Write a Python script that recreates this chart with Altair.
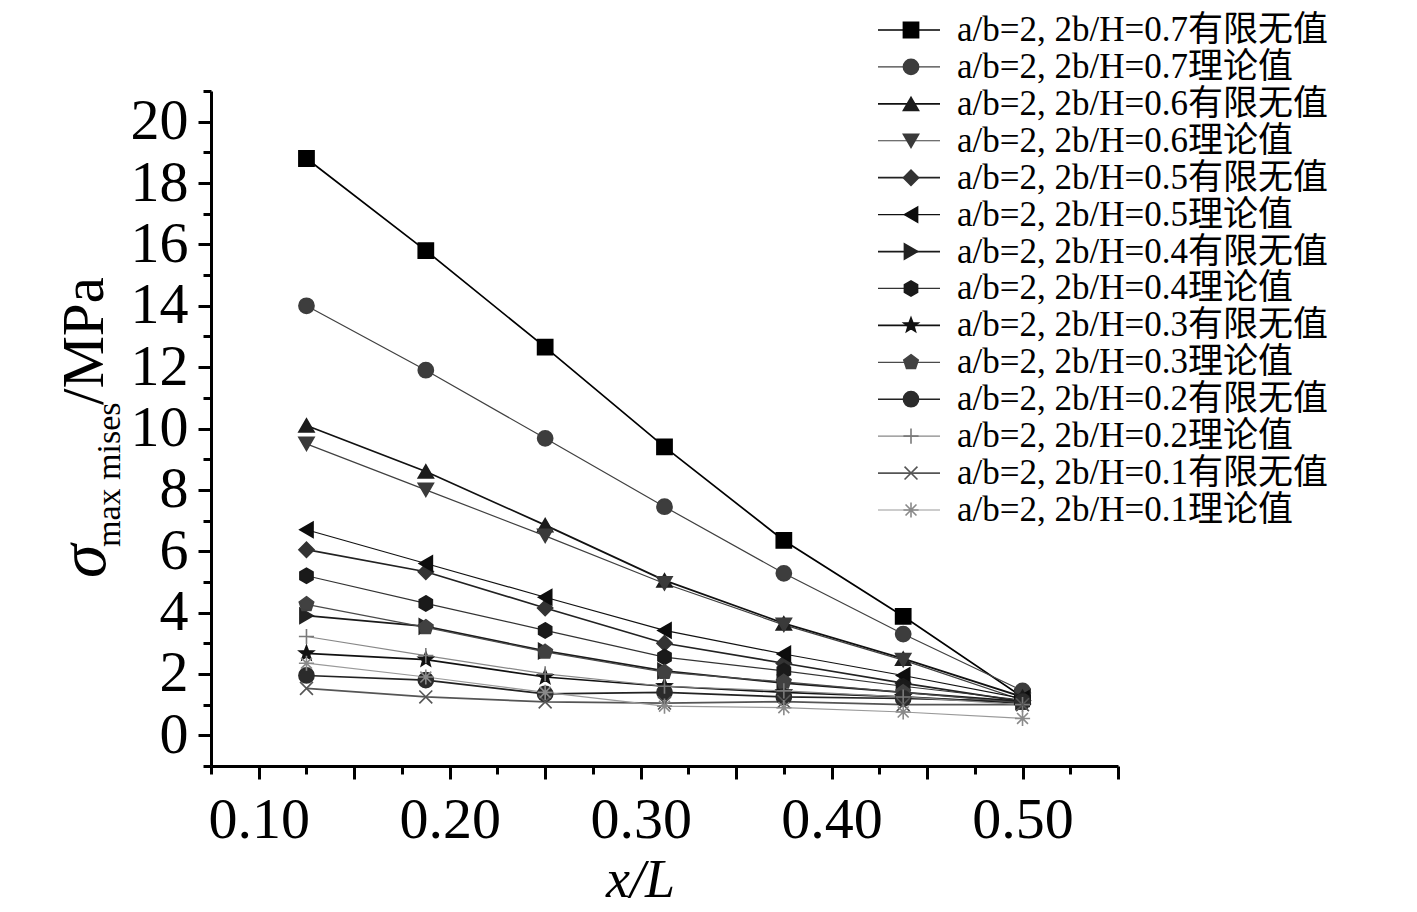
import math
import altair as alt
import pandas as pd

# ---------------- data ----------------
X_OVER_L = [0.125, 0.1875, 0.25, 0.3125, 0.375, 0.4375, 0.5]

FE_07 = [18.8, 15.8, 12.65, 9.4, 6.35, 3.88, 1.25]
TH_07 = [14.0, 11.9, 9.68, 7.45, 5.28, 3.3, 1.45]
FE_06 = [10.1, 8.6, 6.85, 5.05, 3.65, 2.5, 1.25]
TH_06 = [9.5, 8.0, 6.5, 4.95, 3.6, 2.45, 1.15]
FE_05 = [6.05, 5.33, 4.15, 3.0, 2.35, 1.7, 1.1]
TH_05 = [6.7, 5.6, 4.5, 3.42, 2.65, 1.95, 1.2]
FE_04 = [3.9, 3.55, 2.75, 2.1, 1.7, 1.4, 1.1]
TH_04 = [5.2, 4.3, 3.42, 2.55, 2.1, 1.6, 1.15]
FE_03 = [2.67, 2.47, 1.9, 1.6, 1.4, 1.25, 1.05]
TH_03 = [4.27, 3.52, 2.72, 2.06, 1.74, 1.4, 1.05]
FE_02 = [1.95, 1.8, 1.35, 1.4, 1.25, 1.2, 1.1]
TH_02 = [3.22, 2.6, 2.0, 1.6, 1.45, 1.25, 1.0]
FE_01 = [1.53, 1.25, 1.09, 1.05, 1.1, 1.0, 1.0]
TH_01 = [2.35, 1.9, 1.4, 0.95, 0.9, 0.76, 0.55]

LABELS = [
    "a/b=2, 2b/H=0.7有限无值",
    "a/b=2, 2b/H=0.7理论值",
    "a/b=2, 2b/H=0.6有限无值",
    "a/b=2, 2b/H=0.6理论值",
    "a/b=2, 2b/H=0.5有限无值",
    "a/b=2, 2b/H=0.5理论值",
    "a/b=2, 2b/H=0.4有限无值",
    "a/b=2, 2b/H=0.4理论值",
    "a/b=2, 2b/H=0.3有限无值",
    "a/b=2, 2b/H=0.3理论值",
    "a/b=2, 2b/H=0.2有限无值",
    "a/b=2, 2b/H=0.2理论值",
    "a/b=2, 2b/H=0.1有限无值",
    "a/b=2, 2b/H=0.1理论值",
]
KINDS = ["fe", "th"] * 7
SERIES = [FE_07, TH_07, FE_06, TH_06, FE_05, TH_05, FE_04, TH_04,
          FE_03, TH_03, FE_02, TH_02, FE_01, TH_01]

X_TICKS = [0.10, 0.15, 0.20, 0.25, 0.30, 0.35, 0.40, 0.45, 0.50, 0.55]
X_MINOR = [0.075, 0.125, 0.175, 0.225, 0.275, 0.325, 0.375, 0.425, 0.475, 0.525]
Y_TICKS = [0, 2, 4, 6, 8, 10, 12, 14, 16, 18, 20]
Y_MINOR = [-1, 1, 3, 5, 7, 9, 11, 13, 15, 17, 19, 21]

# ---------------- styles ----------------
def star_path(n=5, r_out=1.0, r_in=0.42):
    pts = []
    for i in range(2 * n):
        r = r_out if i % 2 == 0 else r_in
        a = -math.pi / 2 + i * math.pi / n
        pts.append(f"{r*math.cos(a):.3f},{r*math.sin(a):.3f}")
    return "M" + "L".join(pts) + "Z"

def polygon_path(n, r=1.0):
    pts = []
    for i in range(n):
        a = -math.pi / 2 + i * 2 * math.pi / n
        pts.append(f"{r*math.cos(a):.3f},{r*math.sin(a):.3f}")
    return "M" + "L".join(pts) + "Z"

HEXAGON = "M0,-1L0.866,-0.5L0.866,0.5L0,1L-0.866,0.5L-0.866,-0.5Z"
PLUS = "M-1,0L1,0M0,-1L0,1"
XMARK = "M-0.85,-0.85L0.85,0.85M-0.85,0.85L0.85,-0.85"
ASTER = "M-1,0L1,0M0,-1L0,1M-0.72,-0.72L0.72,0.72M-0.72,0.72L0.72,-0.72"

SHAPES = ["square", "circle", "triangle-up", "triangle-down", "diamond",
          "triangle-left", "triangle-right", HEXAGON, star_path(),
          polygon_path(5), "circle", PLUS, XMARK, ASTER]
MARKER_COLORS = ["#000000", "#3d3d3d", "#1c1c1c", "#3a3a3a", "#333333",
                 "#0d0d0d", "#222222", "#1a1a1a", "#111111", "#414141",
                 "#2b2b2b", "#7a7a7a", "#555555", "#8a8a8a"]
LINE_COLORS = ["#000000", "#404040", "#111111", "#404040", "#222222",
               "#111111", "#1a1a1a", "#333333", "#111111", "#4a4a4a",
               "#222222", "#888888", "#555555", "#999999"]

SERIF = "Liberation Serif"
LEG_FONT = "Liberation Serif, Noto Sans CJK SC"

rows = []
for label, kind, ys in zip(LABELS, KINDS, SERIES):
    for x, y in zip(X_OVER_L, ys):
        rows.append({"x": x, "y": y, "series": label, "kind": kind})
df = pd.DataFrame(rows)
legend_df = pd.DataFrame({"series": LABELS, "kind": KINDS})
one = pd.DataFrame({"t": [0]})

x_scale = alt.Scale(domain=[0.075, 0.55], nice=False, zero=False)
y_scale = alt.Scale(domain=[-1, 21], nice=False, zero=False)

main_x_axis = alt.Axis(
    values=X_TICKS,
    labelExpr="indexof(['0.10','0.20','0.30','0.40','0.50'], format(datum.value, '.2f')) >= 0 ? format(datum.value, '.2f') : ''",
    title="x/L", titleFont=SERIF, titleFontStyle="italic", titleFontWeight="normal",
    titleFontSize=54, titleColor="black", titleX=429, titleY=130,
    titleBaseline="alphabetic", titleAlign="center",
    labelFont=SERIF, labelFontSize=58, labelColor="black", labelPadding=12,
    labelFlush=False, labelOverlap=False,
    tickSize=13, tickWidth=3, tickColor="black",
    domainWidth=3, domainColor="black", grid=False, orient="bottom",
)
main_y_axis = alt.Axis(
    values=Y_TICKS, format="d", title=None,
    labelFont=SERIF, labelFontSize=58, labelColor="black", labelPadding=10,
    labelFlush=False, labelOverlap=False,
    tickSize=13, tickWidth=3, tickColor="black",
    domainWidth=3, domainColor="black", grid=False, orient="left",
)
minor_x_axis = alt.Axis(values=X_MINOR, labels=False, title=None, domain=False,
                        tickSize=8, tickWidth=3, tickColor="black", grid=False,
                        orient="bottom")
minor_y_axis = alt.Axis(values=Y_MINOR, labels=False, title=None, domain=False,
                        tickSize=8, tickWidth=3, tickColor="black", grid=False,
                        orient="left")

X_ENC = alt.X("x:Q", scale=x_scale, axis=main_x_axis)
Y_ENC = alt.Y("y:Q", scale=y_scale, axis=main_y_axis)

line_color = alt.Color("series:N", scale=alt.Scale(domain=LABELS, range=LINE_COLORS), legend=None)
shape_enc = alt.Shape("series:N", scale=alt.Scale(domain=LABELS, range=SHAPES), legend=None)
fill_enc = alt.Fill("series:N", scale=alt.Scale(domain=LABELS, range=MARKER_COLORS), legend=None)
stroke_enc = alt.Stroke("series:N", scale=alt.Scale(domain=LABELS, range=MARKER_COLORS), legend=None)

base = alt.Chart(df)
lines_fe = base.transform_filter(alt.datum.kind == "fe").mark_line(strokeWidth=1.7).encode(
    x=X_ENC, y=Y_ENC, color=line_color)
lines_th = base.transform_filter(alt.datum.kind == "th").mark_line(strokeWidth=1.2).encode(
    x=X_ENC, y=Y_ENC, color=line_color)
points = base.mark_point(filled=True, size=230, strokeWidth=1.6, opacity=1).encode(
    x=X_ENC, y=Y_ENC, shape=shape_enc, fill=fill_enc, stroke=stroke_enc)
minor = base.mark_point(opacity=0).encode(
    x=alt.X("x:Q", scale=x_scale, axis=minor_x_axis),
    y=alt.Y("y:Q", scale=y_scale, axis=minor_y_axis))

inner = alt.layer(alt.layer(lines_fe, lines_th, points), minor).resolve_axis(
    x="independent", y="independent")

# ---------------- legend ----------------
leg_y = alt.Y("series:N", scale=alt.Scale(type="point", domain=LABELS, range=[-61, 419], padding=0),
              axis=None)
lb = alt.Chart(legend_df)
leg_rule_fe = lb.transform_filter(alt.datum.kind == "fe").mark_rule(strokeWidth=1.7).encode(
    y=leg_y, x=alt.value(667), x2=alt.value(729), color=line_color)
leg_rule_th = lb.transform_filter(alt.datum.kind == "th").mark_rule(strokeWidth=1.2).encode(
    y=leg_y, x=alt.value(667), x2=alt.value(729), color=line_color)
leg_pts = lb.mark_point(filled=True, size=230, strokeWidth=1.6, opacity=1).encode(
    y=leg_y, x=alt.value(700), shape=shape_enc, fill=fill_enc, stroke=stroke_enc)
leg_text = lb.mark_text(align="left", baseline="middle", fontSize=35, font=LEG_FONT,
                        color="black").encode(y=leg_y, x=alt.value(746), text="series:N")
legend = alt.layer(leg_rule_fe, leg_rule_th, leg_pts, leg_text)

# ---------------- y title (with subscript) ----------------
ob = alt.Chart(one)
t_sigma = ob.mark_text(text="σ", angle=270, align="left", baseline="alphabetic",
                       fontSize=68, fontStyle="italic", font=SERIF, color="black").encode(
    x=alt.value(-106), y=alt.value(487))
t_sub = ob.mark_text(text="max mises", angle=270, align="left", baseline="alphabetic",
                     fontSize=34, font=SERIF, color="black").encode(
    x=alt.value(-91), y=alt.value(456))
t_mpa = ob.mark_text(text="/MPa", angle=270, align="left", baseline="alphabetic",
                     fontSize=59, font=SERIF, color="black").encode(
    x=alt.value(-108), y=alt.value(314))
ytitle = alt.layer(t_sigma, t_sub, t_mpa)

chart = alt.layer(inner, legend, ytitle).resolve_scale(y="independent").properties(
    width=907, height=675,
    padding={"left": 203, "top": 83, "right": 270, "bottom": 146},
    autosize=alt.AutoSizeParams(type="none"),
    background="white",
).configure_view(stroke=None)

chart.save("out.html", embed_options={"renderer": "svg", "actions": False})
